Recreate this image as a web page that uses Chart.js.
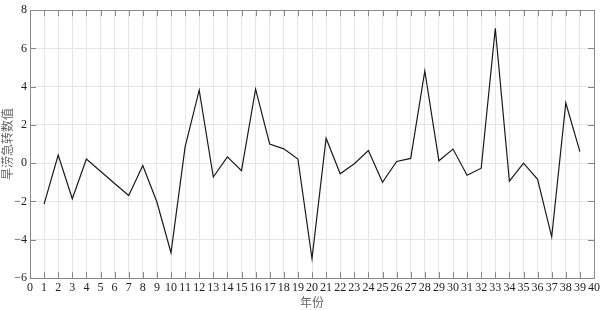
<!DOCTYPE html>
<html>
<head>
<meta charset="utf-8">
<script src="https://cdn.jsdelivr.net/npm/chart.js@4.4.1/dist/chart.umd.min.js"></script>
<style>
  body { margin: 0; background: #fff; }
  #wrap { width: 604px; height: 310px; }
</style>
</head>
<body>
<div id="wrap"><canvas id="myChart"></canvas></div>
<script>
// years 1..39 and the index value for each
const years = [1, 2, 3, 4, 5, 6, 7, 8, 9, 10, 11, 12, 13, 14, 15, 16, 17, 18, 19, 20,
  21, 22, 23, 24, 25, 26, 27, 28, 29, 30, 31, 32, 33, 34, 35, 36, 37, 38, 39];
const indexValues = [-2.14, 0.43, -1.86, 0.22, -0.42, -1.06, -1.69, -0.12, -2.03, -4.68,
  0.85, 3.82, -0.72, 0.33, -0.39, 3.88, 1.0, 0.75, 0.22, -4.99,
  1.31, -0.55, -0.03, 0.66, -1.0, 0.09, 0.25, 4.82, 0.13, 0.74,
  -0.63, -0.26, 7.05, -0.94, 0.0, -0.84, -3.85, 3.15, 0.61];
const xRange = [0, 40];
const yRange = [-6, 8];
const yStep = 2;

const serif = '"Liberation Serif", "DejaVu Serif", serif';
const cjk = '"Noto Sans CJK SC", sans-serif';

// draws the short inward ticks on all four sides of the box
const inwardTicks = {
  id: 'inwardTicks',
  afterDraw(chart) {
    const ctx = chart.ctx;
    const area = chart.chartArea;
    const xs = chart.scales.x, ys = chart.scales.y;
    const len = 6;
    ctx.save();
    ctx.strokeStyle = '#888';
    ctx.lineWidth = 1;
    ctx.beginPath();
    xs.ticks.forEach(t => {
      const px = Math.round(xs.getPixelForValue(t.value)) + 0.5;
      ctx.moveTo(px, area.bottom); ctx.lineTo(px, area.bottom - len);
      ctx.moveTo(px, area.top); ctx.lineTo(px, area.top + len);
    });
    ys.ticks.forEach(t => {
      const py = Math.round(ys.getPixelForValue(t.value)) + 0.5;
      ctx.moveTo(area.left, py); ctx.lineTo(area.left + len, py);
      ctx.moveTo(area.right, py); ctx.lineTo(area.right - len, py);
    });
    ctx.stroke();
    // box
    ctx.strokeStyle = '#8a8a8a';
    ctx.strokeRect(Math.round(area.left) + 0.5, Math.round(area.top) + 0.5,
      Math.round(area.right - area.left), Math.round(area.bottom - area.top));
    ctx.restore();
  }
};

const ctx = document.getElementById('myChart').getContext('2d');
const chart = new Chart(ctx, {
  type: 'line',
  data: {
    datasets: [{
      data: years.map((y, i) => ({ x: y, y: indexValues[i] })),
      borderColor: '#1a1a1a',
      borderWidth: 1.2,
      pointRadius: 0,
      tension: 0,
      fill: false
    }]
  },
  options: {
    responsive: true,
    maintainAspectRatio: false,
    animation: false,
    layout: { padding: { top: 6, right: 10, left: 0, bottom: 0 } },
    plugins: { legend: { display: false }, tooltip: { enabled: false } },
    scales: {
      x: {
        type: 'linear',
        min: xRange[0],
        max: xRange[1],
        ticks: {
          stepSize: 1,
          autoSkip: false,
          maxRotation: 0,
          padding: 3,
          color: '#222',
          font: { family: serif, size: 12 }
        },
        grid: { color: '#e6e6e6', drawTicks: false, lineWidth: 1 },
        border: { display: false },
        title: {
          display: true,
          text: '年份',
          color: '#666',
          padding: { top: 0, bottom: 0 },
          font: { family: cjk, size: 12 }
        },
        afterFit(scale) { scale.height = 32; }
      },
      y: {
        min: yRange[0],
        max: yRange[1],
        ticks: {
          stepSize: yStep,
          padding: 3,
          color: '#222',
          font: { family: serif, size: 12 },
          callback: v => String(v).replace('-', '\u2212')
        },
        grid: { color: '#e6e6e6', drawTicks: false, lineWidth: 1 },
        border: { display: false },
        title: {
          display: true,
          text: '旱涝急转数值',
          color: '#666',
          padding: { top: 0, bottom: 0 },
          font: { family: cjk, size: 12 }
        },
        afterFit(scale) { scale.width = 30; }
      }
    }
  },
  plugins: [inwardTicks]
});
</script>
</body>
</html>
